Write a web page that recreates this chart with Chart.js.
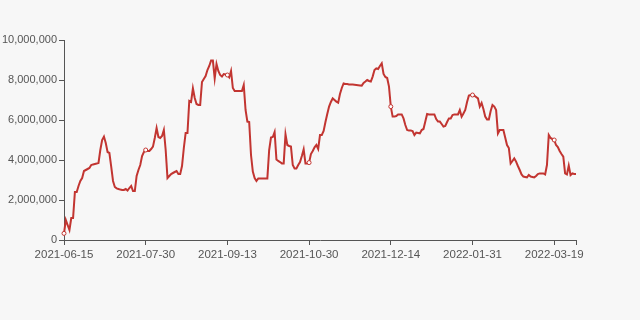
<!DOCTYPE html>
<html>
<head>
<meta charset="utf-8">
<script src="https://cdn.jsdelivr.net/npm/chart.js@4/dist/chart.umd.min.js"></script>
<style>
html,body{margin:0;padding:0;background:#f7f7f7;}
#wrap{width:640px;height:320px;position:relative;}
</style>
</head>
<body>
<div id="wrap"><canvas id="c" width="640" height="320"></canvas></div>
<script>
// ---- data ----
const startDate = '2021-06-15';
const missingDates = ['2021-10-01','2021-10-02','2022-01-01','2022-01-02','2022-01-03','2022-02-01','2022-02-02'];
const values = [
  330000, 1000000, 750000, 500000, 1100000, 1100000, 2400000, 2400000, 2700000, 2950000,
  3100000, 3450000, 3500000, 3550000, 3600000, 3750000, 3780000, 3800000, 3820000, 3850000,
  4500000, 5000000, 5170000, 4850000, 4400000, 4350000, 3670000, 2950000, 2650000, 2580000,
  2550000, 2520000, 2500000, 2500000, 2550000, 2470000, 2600000, 2700000, 2450000, 2450000,
  3200000, 3500000, 3750000, 4200000, 4400000, 4500000, 4450000, 4450000, 4550000, 4670000,
  5100000, 5600000, 5150000, 5100000, 5200000, 5500000, 4500000, 3100000, 3200000, 3300000,
  3350000, 3400000, 3450000, 3300000, 3300000, 3700000, 4600000, 5350000, 5350000, 6950000,
  6900000, 7580000, 7100000, 6800000, 6750000, 6750000, 7900000, 8050000, 8200000, 8500000,
  8700000, 8970000, 8970000, 8080000, 8800000, 8450000, 8250000, 8170000, 8300000, 8280000,
  8250000, 8130000, 8450000, 7600000, 7450000, 7450000, 7450000, 7450000, 7450000, 7750000,
  6500000, 5920000, 5900000, 4250000, 3420000, 3100000, 2950000, 3080000, 3080000, 3080000,
  3080000, 3080000, 3080000, 4500000, 5120000, 5150000, 5400000, 4030000, 3950000, 3900000,
  3830000, 3830000, 5280000, 4750000, 4700000, 4670000, 3750000, 3580000, 3580000, 3750000,
  3900000, 4200000, 4530000, 3830000, 3830000, 3870000, 4300000, 4450000, 4630000, 4750000,
  4550000, 5250000, 5250000, 5450000, 5900000, 6300000, 6670000, 6900000, 7080000, 7000000,
  6920000, 6870000, 7300000, 7600000, 7830000, 7800000, 7800000, 7780000, 7770000, 7770000,
  7760000, 7750000, 7740000, 7730000, 7720000, 7850000, 7920000, 8000000, 7950000, 7920000,
  8170000, 8500000, 8580000, 8550000, 8700000, 8830000, 8300000, 8150000, 8100000, 7670000,
  6670000, 6170000, 6170000, 6200000, 6280000, 6280000, 6280000, 6080000, 5750000, 5500000,
  5470000, 5470000, 5450000, 5250000, 5370000, 5350000, 5330000, 5500000, 5550000, 5920000,
  6300000, 6280000, 6280000, 6280000, 6280000, 6050000, 5920000, 5920000, 5800000, 5670000,
  5700000, 5900000, 6080000, 6080000, 6250000, 6280000, 6280000, 6280000, 6500000, 6170000,
  6330000, 6500000, 6900000, 7220000, 7250000, 7250000, 7220000, 7150000, 7080000, 6670000,
  6850000, 6550000, 6170000, 6030000, 6030000, 6450000, 6750000, 6670000, 6500000, 5330000,
  5500000, 5500000, 5500000, 5120000, 4750000, 4600000, 3830000, 3950000, 4080000, 3920000,
  3700000, 3500000, 3280000, 3170000, 3150000, 3130000, 3250000, 3170000, 3150000, 3130000,
  3200000, 3300000, 3330000, 3330000, 3330000, 3280000, 3750000, 5250000, 5100000, 5050000,
  5000000, 4750000, 4650000, 4450000, 4300000, 4170000, 3330000, 3280000, 3720000, 3250000,
  3330000, 3300000, 3300000
];
const yTicks = [0, 2000000, 4000000, 6000000, 8000000, 10000000];
const labelEvery = 45;

// categories: consecutive dates from startDate, skipping missingDates
const categories = [];
(function () {
  const d = new Date(startDate + 'T00:00:00Z');
  while (categories.length < values.length) {
    const s = d.toISOString().slice(0, 10);
    if (!missingDates.includes(s)) categories.push(s);
    d.setUTCDate(d.getUTCDate() + 1);
  }
})();

const lineColor = '#c23531';
const axisColor = '#555555';
const textColor = '#555555';
const lastIndex = values.length - 1;

new Chart(document.getElementById('c'), {
  type: 'line',
  data: {
    labels: categories,
    datasets: [{
      data: values,
      borderColor: lineColor,
      borderWidth: 2,
      tension: 0,
      fill: false,
      pointRadius: ctx => (ctx.index % labelEvery === 0 ? 2 : 0),
      pointBackgroundColor: '#ffffff',
      pointBorderColor: lineColor,
      pointBorderWidth: 1,
      pointHoverRadius: 0
    }]
  },
  options: {
    responsive: false,
    animation: false,
    devicePixelRatio: 1,
    layout: { padding: { top: 40, right: 64, bottom: 50, left: 0 } },
    plugins: { legend: { display: false }, tooltip: { enabled: false } },
    scales: {
      x: {
        type: 'category',
        offset: false,
        afterBuildTicks: s => {
          s.ticks = s.ticks.filter(t => t.value % labelEvery === 0 || t.value === lastIndex);
        },
        afterFit: s => { s.height = 30; },
        border: { display: true, color: axisColor, width: 1 },
        grid: { display: true, drawOnChartArea: false, drawTicks: true, tickLength: 5, color: axisColor },
        ticks: {
          autoSkip: false, maxRotation: 0, minRotation: 0, padding: 3,
          color: textColor,
          font: { family: 'Liberation Sans, Arial, sans-serif', size: 11.5 },
          callback: function (v) {
            return (v % labelEvery === 0) ? this.getLabelForValue(v) : '';
          }
        }
      },
      y: {
        min: 0, max: 10000000,
        afterBuildTicks: s => { s.ticks = yTicks.map(v => ({ value: v })); },
        afterFit: s => { s.width = 64; },
        border: { display: true, color: axisColor, width: 1 },
        grid: { display: true, drawOnChartArea: false, drawTicks: true, tickLength: 5, color: axisColor },
        ticks: {
          padding: 2,
          color: textColor,
          font: { family: 'Liberation Sans, Arial, sans-serif', size: 11 },
          callback: v => Number(v).toLocaleString('en-US')
        }
      }
    }
  }
});
</script>
</body>
</html>
